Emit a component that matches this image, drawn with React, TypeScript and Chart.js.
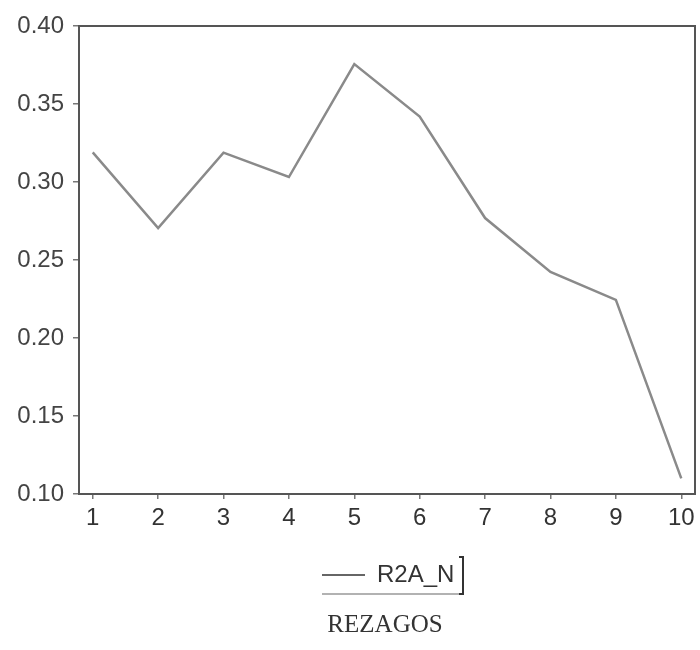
import React, { useEffect, useRef } from "react";
import { Chart, registerables } from "chart.js";

Chart.register(...registerables);

const lags = [1, 2, 3, 4, 5, 6, 7, 8, 9, 10];
const r2aN = [0.319, 0.2705, 0.3188, 0.3032, 0.3756, 0.3419, 0.2769, 0.2423, 0.2244, 0.11];
const yTicks = [0.1, 0.15, 0.2, 0.25, 0.3, 0.35, 0.4];
const seriesName = "R2A_N";
const xTitle = "REZAGOS";

const framePlugin = {
  id: "frameAndLegend",
  afterDatasetsDraw(chart: any) {
    const { ctx, chartArea } = chart;
    ctx.save();
    ctx.strokeStyle = "#555";
    ctx.lineWidth = 2;
    ctx.strokeRect(chartArea.left, chartArea.top, chartArea.right - chartArea.left, chartArea.bottom - chartArea.top);
    ctx.restore();
  },
  afterDraw(chart: any) {
    const { ctx } = chart;
    ctx.save();
    // legend sample line
    ctx.strokeStyle = "#333";
    ctx.lineWidth = 1.5;
    ctx.beginPath();
    ctx.moveTo(322, 575);
    ctx.lineTo(365, 575);
    ctx.stroke();
    ctx.fillStyle = "#333";
    ctx.font = "24px 'Liberation Sans', Arial, sans-serif";
    ctx.textBaseline = "middle";
    ctx.textAlign = "left";
    ctx.fillText(seriesName, 377, 575);
    // box bottom and right bracket
    ctx.strokeStyle = "#999";
    ctx.lineWidth = 1.5;
    ctx.beginPath();
    ctx.moveTo(322, 594);
    ctx.lineTo(463, 594);
    ctx.stroke();
    ctx.strokeStyle = "#333";
    ctx.lineWidth = 2;
    ctx.beginPath();
    ctx.moveTo(459, 557);
    ctx.lineTo(463, 557);
    ctx.lineTo(463, 594);
    ctx.lineTo(459, 594);
    ctx.stroke();
    // x title
    ctx.font = "25px 'Liberation Serif', 'Times New Roman', serif";
    ctx.textAlign = "center";
    ctx.fillStyle = "#333";
    ctx.fillText(xTitle, 385, 625);
    ctx.restore();
  },
};

export default function App() {
  const ref = useRef<HTMLCanvasElement>(null);
  useEffect(() => {
    if (!ref.current) return;
    const chart = new Chart(ref.current, {
      type: "line",
      data: {
        datasets: [
          {
            label: seriesName,
            data: lags.map((x, i) => ({ x, y: r2aN[i] })),
            borderColor: "#8a8a8a",
            borderWidth: 2.5,
            pointRadius: 0,
            tension: 0,
            fill: false,
          },
        ],
      },
      options: {
        animation: false,
        responsive: false,
        layout: { padding: { top: 26, right: 5, left: 0, bottom: 0 } },
        plugins: { legend: { display: false }, tooltip: { enabled: false } },
        scales: {
          x: {
            type: "linear",
            min: 0.79,
            max: 10.21,
            afterBuildTicks: (s: any) => {
              s.ticks = lags.map((v) => ({ value: v }));
            },
            afterFit: (s: any) => {
              s.height = 156;
            },
            border: { display: false },
            grid: { drawOnChartArea: false, drawTicks: true, tickLength: 5, color: "#777", lineWidth: 1.5 },
            ticks: {
              autoSkip: false,
              maxRotation: 0,
              padding: 5,
              color: "#333",
              font: { family: "'Liberation Sans', Arial, sans-serif", size: 24 },
              callback: (v: any) => String(v),
            },
          },
          y: {
            type: "linear",
            min: 0.1,
            max: 0.4,
            afterBuildTicks: (s: any) => {
              s.ticks = yTicks.map((v) => ({ value: v }));
            },
            afterFit: (s: any) => {
              s.width = 79;
            },
            border: { display: false },
            grid: { drawOnChartArea: false, drawTicks: true, tickLength: 6, color: "#777", lineWidth: 1.5 },
            ticks: {
              padding: 9,
              color: "#444",
              font: { family: "'Liberation Sans', Arial, sans-serif", size: 24 },
              callback: (v: any) => Number(v).toFixed(2),
            },
          },
        },
      },
      plugins: [framePlugin],
    });
    return () => chart.destroy();
  }, []);
  return (
    <div style={{ position: "absolute", left: 0, top: 0, width: 700, height: 650, background: "#fff" }}>
      <canvas ref={ref} width={700} height={650} />
    </div>
  );
}
